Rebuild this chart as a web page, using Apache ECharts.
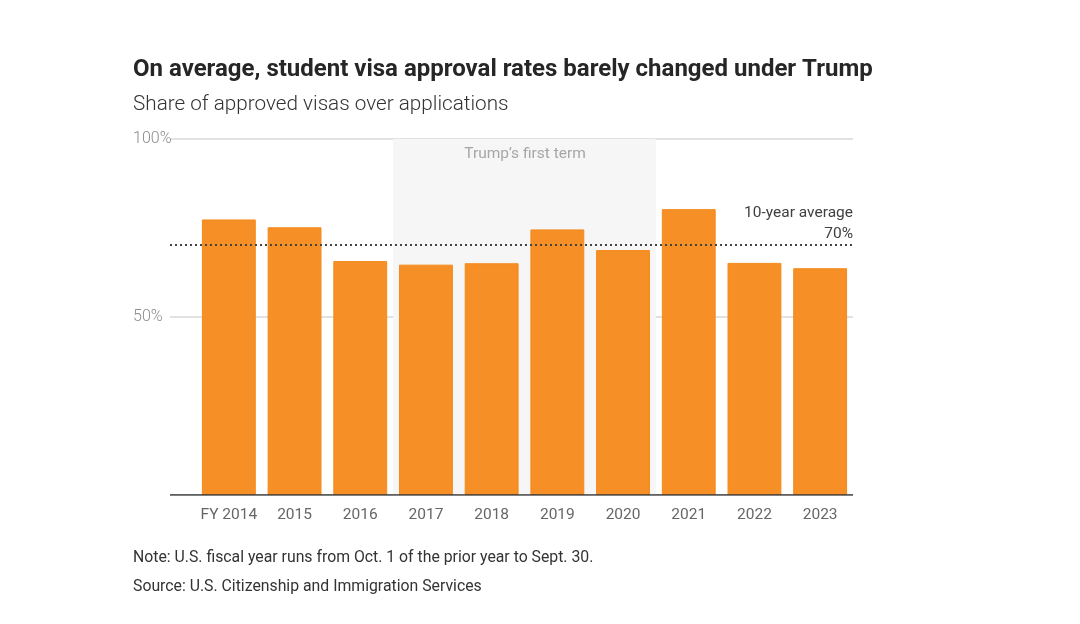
<!DOCTYPE html>
<html>
<head>
<meta charset="utf-8">
<script src="https://cdn.jsdelivr.net/npm/echarts@6/dist/echarts.min.js"></script>
<style>
html,body{margin:0;padding:0;background:#fff;}
#chart{width:1080px;height:624px;}
</style>
</head>
<body>
<div id="chart"></div>
<script>
const categories = ['FY 2014','2015','2016','2017','2018','2019','2020','2021','2022','2023'];
const approvalRate = [77.4, 75.2, 65.7, 64.7, 65.1, 74.6, 68.8, 80.3, 65.2, 63.7];
const trumpTermYears = ['2017', '2020'];
const tenYearAverage = 70.4;
const yTicks = [0, 50, 100];

const FONT = 'Roboto, "Noto Sans", sans-serif';
const chart = echarts.init(document.getElementById('chart'), null, {renderer: 'canvas'});

const tStart = categories.indexOf(trumpTermYears[0]) - 0.5;
const tEnd = categories.indexOf(trumpTermYears[1]) + 0.5;

chart.setOption({
  animation: false,
  backgroundColor: '#ffffff',
  title: [
    {text: 'On average, student visa approval rates barely changed under Trump', left: 128, top: 53,
     textStyle: {fontFamily: FONT, fontSize: 24, fontWeight: 'bold', color: '#262626'}},
    {text: 'Share of approved visas over applications', left: 128, top: 89,
     textStyle: {fontFamily: FONT, fontSize: 20.7, fontWeight: 300, color: '#333333'}},
    {text: 'Note: U.S. fiscal year runs from Oct. 1 of the prior year to Sept. 30.', left: 128, top: 545,
     textStyle: {fontFamily: FONT, fontSize: 15.8, fontWeight: 'normal', color: '#333333'}},
    {text: 'Source: U.S. Citizenship and Immigration Services', left: 128, top: 574,
     textStyle: {fontFamily: FONT, fontSize: 15.8, fontWeight: 'normal', color: '#333333'}}
  ],
  grid: [
    {left: 170, right: 227, top: 139, bottom: 129},
    {left: 196, right: 227, top: 139, bottom: 129}
  ],
  xAxis: [
    {type: 'value', gridIndex: 0, min: 0, max: 1, show: false},
    {type: 'category', gridIndex: 1, data: categories,
     axisLine: {show: false}, axisTick: {show: false},
     axisLabel: {interval: 0, margin: 12, fontFamily: FONT, fontSize: 15.5, color: '#666666'}},
    {type: 'value', gridIndex: 1, min: -0.5, max: categories.length - 0.5, show: false}
  ],
  yAxis: [
    {type: 'value', gridIndex: 0, min: 0, max: 100, interval: 50,
     axisLine: {show: false}, axisTick: {show: false},
     splitLine: {show: true, lineStyle: {color: '#d9d9d9', width: 1.5}},
     axisLabel: {
       align: 'left', margin: 37, fontFamily: FONT, fontSize: 16, color: '#8a8a8a', fontWeight: 300,
       formatter: function (v) { return (v === yTicks[0]) ? '' : v + '%'; }
     }},
    {type: 'value', gridIndex: 1, min: 0, max: 100, show: false},
    {type: 'value', gridIndex: 1, min: 0, max: 100, show: false}
  ],
  series: [
    {
      name: 'Trump term', type: 'line', xAxisIndex: 2, yAxisIndex: 2,
      data: [[tStart, null]], symbol: 'none', silent: true, z: 1,
      markArea: {
        silent: true,
        itemStyle: {color: '#f6f6f6'},
        label: {show: false},
        data: [[{xAxis: tStart, yAxis: 0}, {xAxis: tEnd, yAxis: 100}]]
      }
    },
    {
      name: 'Approval rate', type: 'bar', xAxisIndex: 1, yAxisIndex: 1,
      data: approvalRate, barCategoryGap: '18%',
      itemStyle: {color: '#f58f26', borderColor: '#f48a1c', borderWidth: 1}, z: 3
    },
    {
      name: 'frame', type: 'line', xAxisIndex: 0, yAxisIndex: 0,
      data: [[0, 0], [1, 0]], symbol: 'none', z: 5, silent: true,
      lineStyle: {color: '#333333', width: 1.5},
      markLine: {
        silent: true, symbol: 'none',
        lineStyle: {type: [2, 3], color: '#444444', width: 2},
        label: {
          show: true, position: 'insideEndTop', distance: [0, 0],
          formatter: '10-year average\n70%', align: 'right',
          fontFamily: FONT, fontSize: 15.5, lineHeight: 21, color: '#404040'
        },
        data: [{yAxis: tenYearAverage}]
      }
    }
  ],
  graphic: [
    {type: 'text', x: 525, y: 146, z: 10,
     style: {text: 'Trump\u2019s first term', textAlign: 'center', fontFamily: FONT, fontSize: 15.5, fill: '#a6a6a6'}}
  ]
});
</script>
</body>
</html>
